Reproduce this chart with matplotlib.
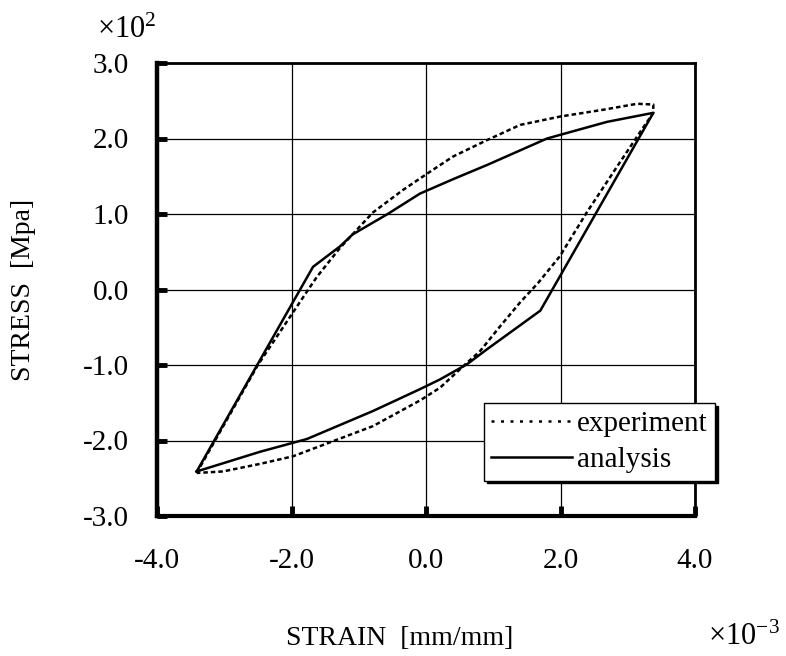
import numpy as np
import matplotlib
matplotlib.use('Agg')
import matplotlib.pyplot as plt
from matplotlib.lines import Line2D
from matplotlib.ticker import FuncFormatter

plt.rcParams['font.family'] = ['Liberation Serif', 'DejaVu Serif']
plt.rcParams['mathtext.fontset'] = 'custom'
plt.rcParams['mathtext.rm'] = 'Liberation Serif'
plt.rcParams['mathtext.it'] = 'Liberation Serif:italic'

# hysteresis loops: strain in 1e-3, stress in 1e2 MPa
exp_strain = [-3.41, -2.50, -1.75, -1.62, -1.28, -1.03, -0.79, -0.34, 0.06, 0.40,
              0.91, 1.40, 1.99, 2.63, 3.14, 3.38, 3.38, 3.18, 2.88, 2.39,
              1.99, 1.67, 1.40, 1.10, 0.80, 0.61, 0.21, -0.09, -0.79, -1.98,
              -2.47, -3.02, -3.41]
exp_stress = [-2.43, -1.00, 0.00, 0.17, 0.55, 0.79, 1.02, 1.32, 1.56, 1.76,
              1.98, 2.18, 2.29, 2.38, 2.46, 2.45, 2.34, 2.08, 1.68, 1.02,
              0.44, 0.09, -0.17, -0.49, -0.82, -0.97, -1.30, -1.47, -1.81, -2.21,
              -2.31, -2.41, -2.43]

ana_strain = [-3.41, -1.68, -1.28, -1.09, -0.57, -0.09, 0.40, 0.91, 1.80, 2.69,
              3.38, 1.70, 0.91, 0.61, 0.21, -0.09, -0.79, -1.77, -2.47, -3.41]
ana_stress = [-2.41, 0.30, 0.57, 0.73, 1.00, 1.27, 1.46, 1.65, 2.00, 2.22,
              2.34, -0.28, -0.79, -0.99, -1.19, -1.32, -1.61, -1.98, -2.15, -2.41]

x_ticks = [-4, -2, 0, 2, 4]
y_ticks = [-3, -2, -1, 0, 1, 2, 3]

fig = plt.figure(figsize=(7.86, 6.56), dpi=100)
ax = fig.add_axes([157/786, 1 - 516/656, (695 - 157)/786, (516 - 63)/656])

ax.plot(exp_strain, exp_stress, color='k', lw=1.8, dashes=(1.8, 1.2))
ax.plot(ana_strain, ana_stress, color='k', lw=1.8)

ax.set_xlim(-4, 4)
ax.set_ylim(-3, 3)
ax.set_xticks(x_ticks)
ax.set_yticks(y_ticks)
fmt = FuncFormatter(lambda v, p: f'{v:.1f}')
ax.xaxis.set_major_formatter(fmt)
ax.yaxis.set_major_formatter(fmt)
ax.grid(True, color='k', lw=0.9)
ax.tick_params(axis='both', direction='in', length=7, width=3.5, labelsize=21)
ax.tick_params(axis='x', pad=23)
ax.tick_params(axis='y', pad=20)

ax.spines['left'].set_linewidth(3.2)
ax.spines['bottom'].set_linewidth(3.0)
ax.spines['top'].set_linewidth(2.0)
ax.spines['right'].set_linewidth(2.0)

# legend with a solid black drop shadow
handles = [Line2D([], [], color='k', lw=1.8, dashes=(1.2, 2.6)),
           Line2D([], [], color='k', lw=1.8)]
leg = ax.legend(handles, ['experiment', 'analysis'], loc='upper left',
                bbox_to_anchor=(484/786, 1 - 403/656), bbox_transform=fig.transFigure,
                borderaxespad=0, fontsize=21, handlelength=2.75, handletextpad=0.2,
                labelspacing=0.35, borderpad=0.25, fancybox=False,
                shadow={'color': 'k', 'alpha': 1})
leg.get_frame().set_edgecolor('k')
leg.get_frame().set_linewidth(1.0)
leg.get_frame().set_alpha(1)

fig.text(400/786, 1 - 645/656, 'STRAIN  [mm/mm]', ha='center', va='baseline', fontsize=20)
fig.text(24/786, 1 - 290/656, 'STRESS  [Mpa]', ha='center', va='center',
         rotation=90, fontsize=20)
fig.text(97/786, 1 - 38/656, '×10$^{2}$', ha='left', va='baseline', fontsize=22)
fig.text(708/786, 1 - 645/656, '×10$^{-3}$', ha='left', va='baseline', fontsize=22)

fig.savefig('out.png', dpi=100)
